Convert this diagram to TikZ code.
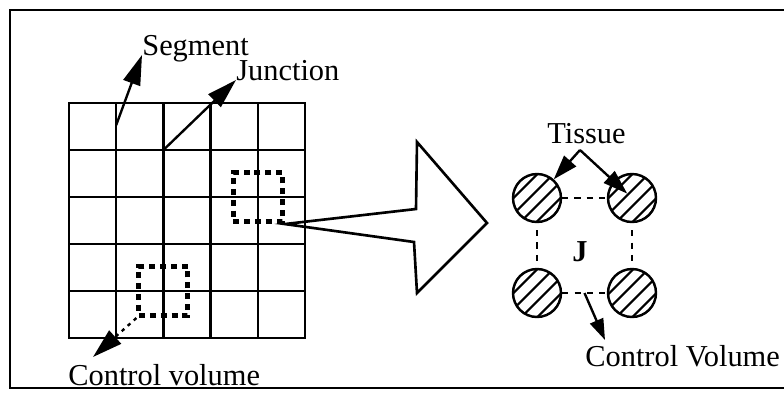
\documentclass[tikz,border=0pt]{standalone}
\usepackage{fontspec}
\setmainfont{Liberation Serif}
\usetikzlibrary{arrows.meta,patterns.meta,calc}

\begin{document}
\begin{tikzpicture}[x=0.02cm,y=-0.02cm,
  frame/.style={line width=1.5pt},
  gridline/.style={line width=1.35pt},
  lbl/.style={inner sep=0pt,anchor=base west,font=\fontsize{17.3}{20}\selectfont},
  cvbox/.style={draw,line width=2.9pt,dash pattern=on 3.4pt off 2.8pt,minimum size=0.98cm,inner sep=0pt},
  tissue/.style={draw,circle,line width=1.4pt,minimum size=0.96cm,inner sep=0pt,
    pattern={Lines[angle=45,distance=6.4pt,line width=1.3pt]}},
  ptr/.style={line width=1.35pt,-{Triangle[length=17pt,width=10pt]}},
  link/.style={line width=1.3pt,dash pattern=on 3.5pt off 3.5pt}]
  \useasboundingbox (0,0) rectangle (784,393);
  % outer frame, open on the right
  \draw[frame] (800,10) -- (10,10) -- (10,388) -- (800,388);

  % 5x5 mesh of segments and junctions
  \foreach \i in {0,...,5}{
    \foreach \j in {0,...,5}{
      \coordinate (g-\i-\j) at (69+\i*47.2,103+\j*47);
    }
  }
  \draw[gridline] (g-0-0) rectangle (g-5-5);
  \foreach \i in {1,...,4}{
    \draw[gridline] (g-\i-0) -- (g-\i-5);
    \draw[gridline] (g-0-\i) -- (g-5-\i);
  }

  % control volumes round two junctions
  \node[cvbox] (cv1) at (g-4-2) {};
  \node[cvbox] (cv2) at (g-2-4) {};

  % mesh labels
  \node[lbl] (seg) at (142,55) {Segment};
  \node[lbl] (jun) at (236,80) {Junction};
  \node[lbl] (cvl) at (68,385) {Control volume};
  \coordinate (cvltip) at (93,357);
  \draw[ptr] ($(g-1-0)!0.47!(g-1-1)$) -- (seg.base west);
  \draw[ptr] (g-2-1) -- (jun.base west);
  \draw[ptr,dash pattern=on 2pt off 2.6pt] (cv2.south west) -- (cvltip);

  % zoom arrow
  \draw[frame,line join=miter] (cv1.south east) -- (416,209) -- (417,142) -- (487,223)
    -- (417,293) -- (414,242) -- cycle;

  % enlarged junction
  \node[tissue] (t1) at (537,198) {};
  \node[tissue] (t2) at (632,198) {};
  \node[tissue] (t3) at (537,293) {};
  \node[tissue] (t4) at (632,293) {};
  \draw[link] (t1) -- (t2);
  \draw[link] (t3) -- (t4);
  \draw[link,shorten <=4pt,shorten >=4pt] (t1) -- (t3);
  \draw[link,shorten <=4pt,shorten >=4pt] (t2) -- (t4);
  \node[font=\fontsize{17.3}{20}\selectfont\bfseries] (jlab) at (580,252) {J};

  \node[lbl] (tis) at (547,143) {Tissue};
  \coordinate (tisfoot) at (580,150);
  \draw[ptr,-{Triangle[length=14pt,width=9pt]}] (tisfoot) -- (t1) ;
  \draw[ptr,-{Triangle[length=14pt,width=9pt]},shorten >=0.13cm] (tisfoot) -- (t2.center);

  \node[lbl] (cvr) at (585,366) {Control Volume};
  \coordinate (cvmid) at ($(t3.east)!0.5!(t4.west)$);
  \coordinate (cvrtip) at (605,340);
  \draw[ptr,-{Triangle[length=12pt,width=8pt]}] (cvmid) -- (cvrtip);
\end{tikzpicture}
\end{document}
